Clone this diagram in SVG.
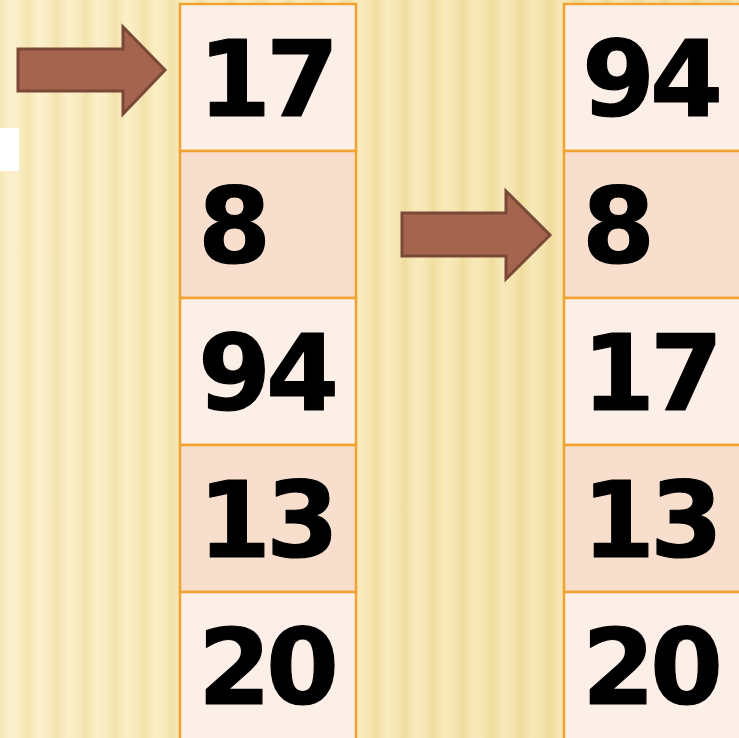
<svg xmlns="http://www.w3.org/2000/svg" width="739" height="738" viewBox="0 0 739 738">
<defs>
<linearGradient id="stripe" x1="0" y1="0" x2="1" y2="0">
<stop offset="0" stop-color="#f4e2a8"/>
<stop offset="0.35" stop-color="#fbefc5"/>
<stop offset="0.65" stop-color="#f9ebbc"/>
<stop offset="1" stop-color="#f2dea2"/>
</linearGradient>
<pattern id="bg" x="0" y="0" width="29" height="738" patternUnits="userSpaceOnUse">
<rect width="29" height="738" fill="url(#stripe)"/>
</pattern>
<linearGradient id="shade" x1="0" y1="0" x2="1" y2="0">
<stop offset="0" stop-color="#ffffff" stop-opacity="0.15"/>
<stop offset="0.5" stop-color="#e8cf85" stop-opacity="0.12"/>
<stop offset="1" stop-color="#d9bd6c" stop-opacity="0.25"/>
</linearGradient>
<style>
.light{fill:#fcefe7;stroke:#f0a330;stroke-width:2.5}
.dark{fill:#f8dfcd;stroke:#f0a330;stroke-width:2.5}
.num{font-family:"DejaVu Sans",Verdana,sans-serif;font-weight:bold;font-size:105px;letter-spacing:-5px;fill:#000;stroke:#000;stroke-width:1.2;stroke-linejoin:round}
.arrow{fill:#a5644e;stroke:#7a4837;stroke-width:3;stroke-linejoin:miter}
</style>
</defs>
<rect width="739" height="738" fill="url(#bg)"/>
<rect width="739" height="738" fill="url(#shade)"/>
<rect x="0" y="128" width="19" height="43" fill="#ffffff"/>
<g id="colA">
<g id="a1"><rect class="light" x="180" y="4" width="176" height="147"/><text class="num" x="198" y="116">17</text></g>
<g id="a2"><rect class="dark" x="180" y="151" width="176" height="147"/><text class="num" x="198" y="263">8</text></g>
<g id="a3"><rect class="light" x="180" y="298" width="176" height="147"/><text class="num" x="198" y="410">94</text></g>
<g id="a4"><rect class="dark" x="180" y="445" width="176" height="147"/><text class="num" x="198" y="557">13</text></g>
<g id="a5"><rect class="light" x="180" y="592" width="176" height="150"/><text class="num" x="198" y="704">20</text></g>
</g>
<g id="colB">
<g id="b1"><rect class="light" x="564" y="4" width="180" height="147"/><text class="num" x="582" y="116">94</text></g>
<g id="b2"><rect class="dark" x="564" y="151" width="180" height="147"/><text class="num" x="582" y="263">8</text></g>
<g id="b3"><rect class="light" x="564" y="298" width="180" height="147"/><text class="num" x="582" y="410">17</text></g>
<g id="b4"><rect class="dark" x="564" y="445" width="180" height="147"/><text class="num" x="582" y="557">13</text></g>
<g id="b5"><rect class="light" x="564" y="592" width="180" height="150"/><text class="num" x="582" y="704">20</text></g>
</g>
<g id="connectors">
<polygon class="arrow" points="18,49 123,49 123,27 165,70 123,114 123,91 18,91"/>
<polygon class="arrow" points="402,213 506,213 506,191 550,235 506,279 506,256 402,256"/>
</g>
</svg>
